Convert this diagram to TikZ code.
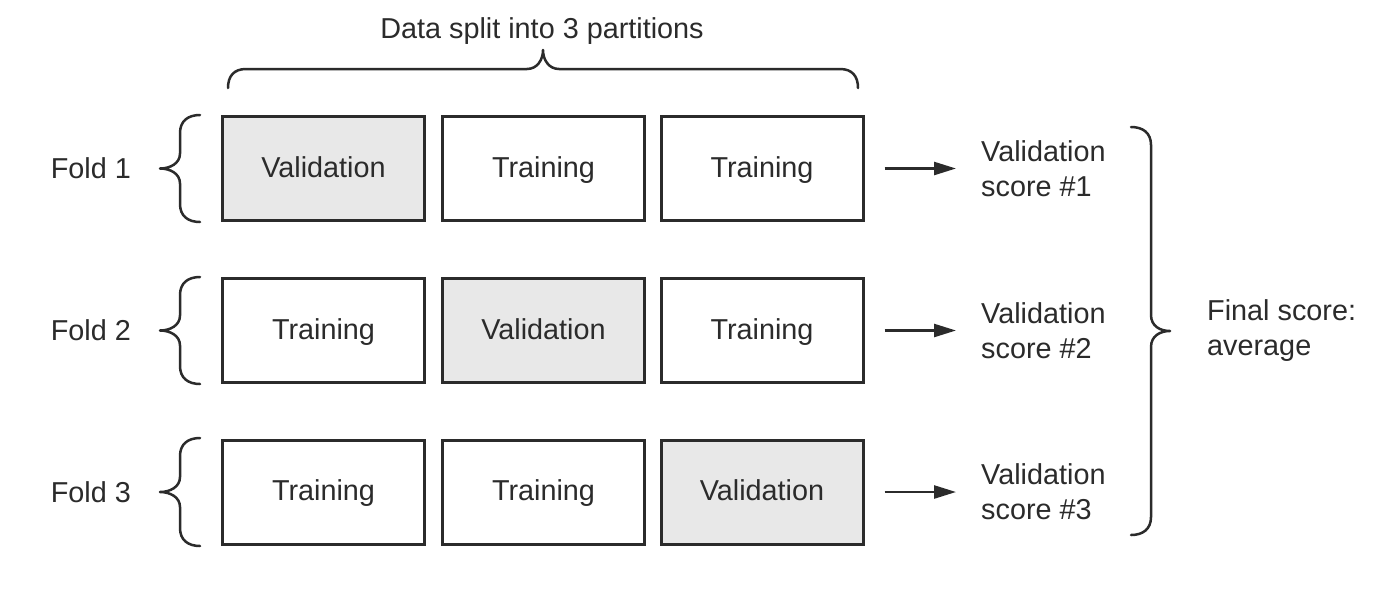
\documentclass[tikz,border=0pt]{standalone}
\usepackage{fontspec}
\setmainfont{Liberation Sans}
\usetikzlibrary{arrows.meta}
\definecolor{ink}{HTML}{2B2B2B}
\definecolor{valfill}{HTML}{E8E8E8}
\begin{document}
\begin{tikzpicture}[x=1pt,y=-1pt,
  every node/.style={font=\fontsize{28.8}{35}\selectfont, text=ink},
  part/.style={draw=ink, line width=3pt, minimum width=202pt, minimum height=104pt,
               inner sep=0pt, text height=23pt, text depth=6pt, fill=white},
  valbox/.style={part, fill=valfill},
  brc/.style={draw=ink, line width=2.5pt, line cap=round, line join=round},
  arr/.style={draw=ink, line width=2.5pt, -{Triangle[length=22pt,width=13pt]}},
  lbl/.style={inner sep=0pt, align=left}]
\fill[white] (0,0) rectangle (1380,598);
\useasboundingbox (0,0) rectangle (1380,598);

% title
\node[lbl, anchor=base] (title) at (542,38) {Data split into 3 partitions};

% boxes
\node[valbox] (b11) at (323.5,168.5) {Validation};
\node[part]   (b12) at (543.5,168.5) {Training};
\node[part]   (b13) at (762,168.5) {Training};
\node[part]   (b21) at (323.5,330.5) {Training};
\node[valbox] (b22) at (543.5,330.5) {Validation};
\node[part]   (b23) at (762,330.5) {Training};
\node[part]   (b31) at (323.5,492) {Training};
\node[part]   (b32) at (543.5,492) {Training};
\node[valbox] (b33) at (762,492) {Validation};

% fold labels
\node[lbl, anchor=east] (f1) at (131,168.5) {Fold 1};
\node[lbl, anchor=east] (f2) at (131,330.5) {Fold 2};
\node[lbl, anchor=east] (f3) at (131,492) {Fold 3};

% scores
\node[lbl, anchor=west] (s1) at (981,168.5) {Validation\\score \#1};
\node[lbl, anchor=west] (s2) at (981,330.5) {Validation\\score \#2};
\node[lbl, anchor=west] (s3) at (981,492) {Validation\\score \#3};
\node[lbl, anchor=west] (fin) at (1207,331) {Final score:\\average};

% arrows
\draw[arr] ([xshift=20pt]b13.east) -- ([xshift=-25pt]s1.west);
\draw[arr] ([xshift=20pt]b23.east) -- ([xshift=-25pt]s2.west);
\draw[arr] ([xshift=20pt]b33.east) -- ([xshift=-25pt]s3.west);

% left braces (tip at left)
\foreach \yc/\hh in {168.5/53.5, 330.5/53.5, 492/54}{
  \draw[brc, shift={(160,\yc)}]
    (40,-\hh) .. controls (28,-\hh) and (20,-\hh+6) .. (20,-\hh+18)
    -- (20,-15) .. controls (20,-5) and (10,0) .. (0,0)
    .. controls (10,0) and (20,5) .. (20,15)
    -- (20,\hh-18) .. controls (20,\hh-6) and (28,\hh) .. (40,\hh);
}

% right brace (tip at right)
\draw[brc, shift={(1170,331)}]
  (-39,-204) .. controls (-27,-204) and (-19,-198) .. (-19,-186)
  -- (-19,-16) .. controls (-19,-5) and (-10,0) .. (0,0)
  .. controls (-10,0) and (-19,5) .. (-19,16)
  -- (-19,186) .. controls (-19,198) and (-27,204) .. (-39,204);

% top brace (tip at top)
\draw[brc, shift={(543,50)}]
  (-315,38) .. controls (-315,26) and (-309,19) .. (-297,19)
  -- (-16,19) .. controls (-6,19) and (0,10) .. (0,0)
  .. controls (0,10) and (6,19) .. (16,19)
  -- (297,19) .. controls (309,19) and (315,26) .. (315,38);
\end{tikzpicture}
\end{document}
